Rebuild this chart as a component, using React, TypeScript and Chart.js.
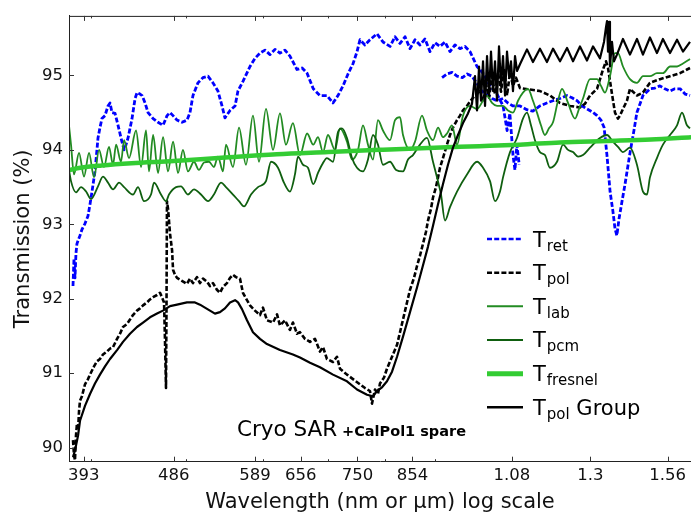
import React, { useEffect, useRef } from "react";
import { Chart, registerables } from "chart.js";

Chart.register(...registerables);

// ---------- axis ticks ----------
const xTickValues = [393, 486, 589, 656, 750, 854, 1080, 1300, 1560];
const xMinorTicks = [400, 500, 600, 700, 800, 900];
const yTickValues = [90, 91, 92, 93, 94, 95];
const X_MIN = 379.6;
const X_MAX = 1648.8;
const Y_MIN = 89.81;
const Y_MAX = 95.8;

// ---------- legend / labels ----------
const legendSubs = ["ret", "pol", "lab", "pcm", "fresnel", "pol"];
const legendTails = ["", "", "", "", "", " Group"];
const xTitle = "Wavelength (nm or \u03bcm) log scale";
const yTitle = "Transmission (%)";
const noteMain = "Cryo SAR";
const noteBold = "+CalPol1 spare";

// ---------- T_ret (visible segment) ----------
const retVisNm = [383.2,384.1,385.0,385.9,386.8,389.6,391.4,394.2,397.0,398.9,400.8,403.6,405.5,406.5,408.4,410.3,413.3,416.2,418.2,420.2,423.2,426.2,429.2,432.3,434.3,436.4,440.5,443.7,445.8,448.9,451.1,454.3,457.5,463.0,468.4,474.0,478.5,481.9,485.3,489.9,495.7,501.6,505.1,508.7,514.7,520.8,527.0,533.3,539.6,544.8,548.6,555.2,561.8,565.7,572.4,582.0,588.9,595.9,603.0,610.2,617.4,624.7,632.1,639.6,650.3,658.2,666.0,675.8,686.6,698.1,708.0,716.4,725.0,733.6,742.4,749.4,754.6,763.5,772.6,785.5,796.7,810.1,819.7,829.4,839.3,849.2,859.3,869.5,879.8,890.3,900.9,911.5,922.3,933.3,944.4,955.6,967.0,978.5,994.8,1009,1026,1043,1058,1068,1075,1083,1088,1093,1099];
const retVisPct = [92.17,92.54,92.28,92.61,92.74,92.85,92.93,93.01,93.11,93.27,93.44,93.71,94.00,94.16,94.30,94.42,94.46,94.59,94.63,94.50,94.49,94.33,94.16,94.00,94.07,94.16,94.42,94.69,94.77,94.75,94.73,94.63,94.50,94.42,94.37,94.33,94.46,94.50,94.46,94.40,94.37,94.40,94.50,94.73,94.90,94.97,94.99,94.90,94.79,94.59,94.43,94.53,94.59,94.79,94.92,95.12,95.23,95.30,95.34,95.28,95.35,95.30,95.34,95.26,95.08,95.10,95.03,94.82,94.73,94.73,94.63,94.73,94.86,95.02,95.16,95.32,95.48,95.41,95.48,95.56,95.45,95.39,95.52,95.43,95.52,95.36,95.48,95.41,95.49,95.32,95.44,95.39,95.45,95.32,95.41,95.36,95.39,95.32,95.12,95.03,94.86,94.75,94.59,94.26,94.49,93.93,93.73,94.07,93.80];

// ---------- T_ret (NIR segment) ----------
const retNirNm = [916,927,938,949,961,972,983,995,1006,1019,1031,1043,1058,1070,1083,1101,1119,1135,1154,1173,1190,1210,1230,1245,1260,1275,1290,1306,1321,1333,1343,1352,1362,1371,1378,1384,1391,1401,1411,1428,1441,1451,1472,1497,1514,1532,1550,1569,1587,1607,1626,1645];
const retNirPct = [94.97,95.02,95.04,94.99,94.97,95.02,94.99,94.89,94.79,94.75,94.69,94.66,94.69,94.63,94.59,94.59,94.54,94.52,94.59,94.63,94.66,94.69,94.73,94.70,94.66,94.59,94.55,94.51,94.46,94.40,94.30,93.93,93.44,93.18,92.94,92.85,93.07,93.31,93.54,93.97,94.26,94.50,94.73,94.82,94.83,94.86,94.82,94.79,94.82,94.82,94.75,94.73];

// ---------- T_pol ----------
const polNm = [383.2,384.1,385.0,385.9,386.8,387.8,388.7,389.6,391.4,394.2,397.0,398.9,402.7,405.6,408.4,411.3,415.2,418.2,421.2,425.2,428.2,431.2,435.3,438.4,441.5,445.7,448.9,452.1,456.4,459.6,462.9,467.3,470.6,472.8,475.1,476.2,477.3,477.9,478.4,479.6,481.9,484.2,485.3,487.6,489.9,495.6,501.5,505.1,508.7,513.5,517.2,520.9,525.8,529.5,533.3,538.3,542.2,546.1,551.2,555.2,559.1,563.1,568.4,572.4,577.9,582.0,588.9,595.9,600.1,605.8,614.5,620.4,624.7,632.1,639.6,644.1,650.3,654.9,662.7,670.6,678.6,686.6,691.5,698.0,708.0,714.7,719.8,731.8,742.2,754.6,763.6,772.6,776.3,781.8,787.3,791.1,798.6,804.3,813.9,823.6,829.4,835.3,843.2,849.2,857.3,863.4,869.5,875.7,881.9,886.1,892.4,896.6,903.0,907.3,911.5,918.0,926.7,933.3,939.9,948.9,955.6,962.4,971.5,978.5,985.5,994.8,1001.9,1009.0,1016.2,1023.4,1030.7,1038.0,1045.4,1052.8,1060.3,1067.8,1075.4,1083.0,1090.7,1101.0,1127.3,1154.2,1181.9,1210.2,1239.1,1268.6,1283.7,1299.0,1320.7,1339.5,1349.0,1355.4,1361.7,1368.2,1377.9,1387.7,1394.2,1404.1,1417.4,1427.5,1451.3,1472.0,1496.5,1532.2,1569.1,1606.5,1633.3,1644.9];
const polPct = [90.10,89.90,89.83,90.16,90.32,90.23,90.49,90.63,90.69,90.85,90.92,90.98,91.09,91.16,91.19,91.25,91.29,91.33,91.35,91.46,91.53,91.62,91.66,91.72,91.78,91.84,91.87,91.91,91.95,91.99,92.02,92.05,92.08,92.02,91.95,91.42,90.80,91.95,93.31,93.21,92.87,92.65,92.39,92.32,92.28,92.24,92.20,92.27,92.21,92.29,92.21,92.27,92.23,92.17,92.21,92.12,92.08,92.16,92.21,92.28,92.32,92.29,92.27,92.08,91.98,91.91,91.84,91.78,91.88,91.71,91.68,91.79,91.64,91.71,91.58,91.68,91.53,91.55,91.46,91.42,91.46,91.29,91.35,91.19,91.15,91.22,91.06,90.98,90.92,90.85,90.80,90.76,90.59,90.78,90.72,90.86,90.94,91.06,91.22,91.38,91.55,91.72,91.95,92.12,92.28,92.44,92.58,92.74,92.90,93.05,93.21,93.36,93.50,93.63,93.76,93.89,94.07,94.20,94.30,94.40,94.46,94.53,94.59,94.65,94.70,94.75,94.81,94.65,94.89,94.70,94.99,94.75,95.04,94.78,95.10,94.73,95.04,94.86,94.97,94.83,94.81,94.79,94.73,94.63,94.59,94.57,94.62,94.73,94.82,95.08,95.19,95.10,94.93,94.75,94.50,94.42,94.46,94.55,94.66,94.82,94.73,94.77,94.90,94.95,94.99,95.03,95.08,95.10];

// ---------- T_lab ----------
const labNm = [379.6,381.4,384.1,388.7,393.3,398.0,402.7,407.5,412.3,417.2,421.2,424.2,429.2,432.3,437.4,444.7,450.0,455.3,458.5,463.0,468.4,474.0,479.6,485.3,491.1,496.8,502.7,509.9,515.9,522.1,528.3,534.5,539.6,546.1,549.9,559.1,567.1,576.5,586.1,594.5,604.4,614.5,624.7,633.6,644.1,654.9,666.0,675.8,683.4,691.5,699.7,711.4,719.8,731.8,740.5,751.1,760.0,769.0,778.1,787.3,796.7,810.1,819.7,829.4,835.3,849.2,859.3,873.6,884.0,896.6,907.3,918.0,926.7,937.7,948.9,962.4,978.5,994.8,1009.0,1018.6,1030.7,1042.9,1057.8,1070.3,1083.0,1095.9,1108.8,1122.0,1135.3,1146.1,1156.9,1167.9,1179.0,1190.3,1204.4,1215.9,1233.3,1253.8,1265.7,1277.6,1299.0,1320.7,1333.1,1345.8,1361.7,1377.9,1387.7,1404.1,1427.5,1451.3,1472.0,1496.5,1521.4,1543.1,1569.1,1595.3,1617.9,1644.9];
const labPct = [94.33,94.07,93.67,93.96,93.64,93.96,93.63,94.00,93.77,94.04,93.80,94.07,93.84,94.13,93.89,94.26,93.77,94.26,93.71,94.20,93.69,94.17,93.71,94.11,93.69,94.00,93.71,93.84,93.73,93.83,93.84,93.77,93.91,93.71,94.07,93.77,94.30,93.80,94.46,93.84,94.55,94.00,94.49,94.07,94.36,93.93,94.22,94.07,94.17,93.97,94.20,94.00,94.29,94.11,93.87,94.00,94.33,94.07,93.87,94.40,94.26,94.13,94.40,94.44,94.20,94.00,94.11,94.46,94.26,94.13,94.30,94.17,94.22,94.33,94.07,94.46,94.59,94.55,94.66,94.73,94.63,94.59,94.59,94.53,94.50,94.66,94.77,94.82,94.66,94.50,94.33,94.20,94.29,94.37,94.66,94.82,94.63,94.42,94.55,94.69,94.95,94.95,94.86,94.77,94.99,95.30,95.30,95.12,94.95,94.90,94.99,94.99,95.03,95.03,95.12,95.12,95.16,95.22];

// ---------- T_pcm ----------
const pcmNm = [379.6,381.4,385.9,390.5,395.2,399.8,406.5,411.3,416.2,421.2,427.2,432.3,441.5,446.8,453.2,460.7,464.0,471.7,477.3,480.7,488.8,494.5,502.7,509.9,518.4,527.1,534.5,543.5,549.9,559.1,567.1,573.8,583.4,593.1,604.4,611.6,621.8,630.6,639.6,647.2,651.8,659.6,667.4,675.8,683.4,689.9,698.0,708.0,716.4,723.2,731.8,740.5,749.3,760.0,769.0,778.1,787.3,796.7,810.1,821.7,835.3,845.2,855.2,869.5,884.0,896.6,905.1,913.7,922.3,933.3,948.9,971.5,994.8,1009.0,1025.8,1038.0,1050.3,1057.8,1075.4,1093.3,1108.8,1119.4,1130.0,1140.7,1154.2,1167.9,1181.9,1201.6,1218.8,1233.3,1247.9,1262.7,1277.6,1299.0,1330.0,1352.2,1371.4,1387.7,1404.1,1427.5,1451.3,1472.0,1486.0,1496.5,1521.4,1543.1,1569.1,1595.3,1614.1,1633.3,1644.9];
const pcmPct = [93.73,93.58,93.43,93.50,93.44,93.34,93.51,93.64,93.56,93.47,93.56,93.50,93.40,93.50,93.31,93.40,93.56,93.40,93.31,93.40,93.50,93.51,93.40,93.47,93.40,93.31,93.40,93.56,93.50,93.40,93.31,93.24,93.40,93.50,93.58,93.84,93.76,93.56,93.44,93.67,93.91,93.80,93.76,93.54,93.69,93.80,93.89,93.84,94.24,94.29,94.16,93.89,93.76,93.71,93.87,94.20,94.07,93.80,93.84,93.73,93.71,93.87,93.93,94.07,94.16,93.84,93.63,93.40,93.05,93.23,93.44,93.67,93.84,93.76,93.58,93.31,93.44,93.63,93.97,94.16,94.42,94.50,94.33,94.13,93.97,93.93,93.76,93.84,94.07,94.00,93.97,93.91,93.93,94.03,94.16,94.20,94.11,94.04,93.97,94.03,93.80,93.44,93.40,93.63,93.89,94.07,94.20,94.33,94.50,94.33,94.29];

// ---------- T_fresnel ----------
const fresNm = [379.6,390,410,440,486,540,620,700,790,900,1000,1100,1210,1350,1500,1649];
const fresPct = [93.73,93.76,93.79,93.82,93.85,93.89,93.94,93.97,94.00,94.03,94.05,94.07,94.10,94.12,94.14,94.17];

// ---------- T_pol Group ----------
const groupNm = [383.2,385.0,387.8,389.6,394.2,398.9,403.6,408.4,413.3,418.2,425.2,431.2,438.4,445.7,452.1,459.6,467.3,473.9,481.9,489.9,501.5,511.1,517.2,523.3,529.5,535.8,542.2,548.6,555.2,561.8,565.8,571.1,577.9,586.1,595.9,605.8,624.7,644.1,654.9,670.6,686.6,708.0,731.8,749.3,767.2,778.1,785.5,794.9,804.3,813.9,823.6,835.3,849.2,863.4,875.7,886.1,896.6,907.3,918.0,928.9,939.9,951.1,962.4,973.8,983.1,990.1,994.8,999.5,1004.3,1009.0,1013.8,1018.6,1023.4,1028.2,1033.1,1038.0,1042.9,1047.8,1052.8,1057.8,1062.8,1067.8,1072.9,1077.9,1083.0,1088.2,1093.3,1101.0,1119.4,1135.3,1154.2,1173.4,1190.3,1210.2,1230.4,1247.9,1268.6,1289.7,1308.2,1330.0,1342.6,1349.0,1352.2,1355.4,1358.6,1361.7,1368.2,1374.6,1384.4,1404.1,1427.5,1451.3,1472.0,1496.5,1521.4,1543.1,1569.1,1595.3,1617.9,1644.9];
const groupPct = [89.87,89.96,90.16,90.36,90.56,90.72,90.86,90.98,91.09,91.19,91.31,91.42,91.53,91.62,91.68,91.75,91.80,91.84,91.90,91.92,91.95,91.95,91.92,91.88,91.84,91.80,91.82,91.87,91.95,91.98,91.95,91.86,91.71,91.55,91.46,91.39,91.31,91.25,91.21,91.14,91.08,90.98,90.89,90.78,90.71,90.69,90.76,90.81,90.89,91.02,91.22,91.49,91.82,92.15,92.45,92.70,92.98,93.27,93.54,93.80,94.03,94.20,94.36,94.49,94.62,94.99,94.53,95.12,94.66,95.19,94.59,95.26,94.73,95.32,94.79,95.19,94.66,95.39,94.86,95.26,94.73,95.32,94.99,95.19,94.79,95.26,95.06,95.15,95.35,95.18,95.36,95.18,95.36,95.19,95.37,95.19,95.39,95.20,95.39,95.23,95.45,95.65,95.73,95.32,95.72,95.12,95.45,95.19,95.28,95.49,95.28,95.49,95.28,95.51,95.30,95.49,95.30,95.48,95.32,95.45];

const pts = (xs: number[], ys: number[]) => {
  const n = Math.min(xs.length, ys.length);
  const out: { x: number; y: number }[] = [];
  for (let i = 0; i < n; i++) out.push({ x: xs[i], y: ys[i] });
  return out;
};

const FONT = "'DejaVu Sans', 'Liberation Sans', sans-serif";

const legendStyles = [
  { color: "#0000ff", dash: [5, 2.2], width: 2.5 },
  { color: "#000000", dash: [5, 2.2], width: 2.5 },
  { color: "#228b22", dash: [], width: 2 },
  { color: "#0f5f0f", dash: [], width: 2 },
  { color: "#33cc33", dash: [], width: 5 },
  { color: "#000000", dash: [], width: 2.5 },
];

const decorPlugin = {
  id: "decor",
  afterDraw(chart: any) {
    const { ctx, chartArea: a, scales } = chart;
    const xs = scales.x;
    const ys = scales.y;
    ctx.save();
    ctx.strokeStyle = "#222";
    ctx.lineWidth = 1;
    ctx.setLineDash([]);
    ctx.beginPath();
    ctx.moveTo(a.left, a.top + 0.5);
    ctx.lineTo(a.right, a.top + 0.5);
    ctx.stroke();
    ctx.strokeStyle = "#333";
    ctx.beginPath();
    const xt = (v: number, len: number) => {
      const px = Math.round(xs.getPixelForValue(v)) + 0.5;
      ctx.moveTo(px, a.bottom);
      ctx.lineTo(px, a.bottom - len);
      ctx.moveTo(px, a.top);
      ctx.lineTo(px, a.top + len);
    };
    xTickValues.forEach((v) => xt(v, 5));
    xMinorTicks.forEach((v) => xt(v, 2.5));
    yTickValues.forEach((v) => {
      const py = Math.round(ys.getPixelForValue(v)) + 0.5;
      ctx.moveTo(a.left, py);
      ctx.lineTo(a.left + 5, py);
    });
    ctx.stroke();

    const lx0 = 487;
    const lx1 = 523;
    const tx = 533;
    const y0 = 239;
    const dy = 33.66;
    legendSubs.forEach((sub, i) => {
      const st = legendStyles[i];
      const ly = y0 + i * dy;
      ctx.strokeStyle = st.color;
      ctx.lineWidth = st.width;
      ctx.setLineDash(st.dash);
      ctx.lineCap = "butt";
      ctx.beginPath();
      ctx.moveTo(lx0, ly);
      ctx.lineTo(lx1, ly);
      ctx.stroke();
      ctx.setLineDash([]);
      ctx.fillStyle = "#000";
      ctx.textBaseline = "alphabetic";
      ctx.textAlign = "left";
      const base = ly + 7.5;
      ctx.font = `21px ${FONT}`;
      ctx.fillText("T", tx, base);
      const wT = ctx.measureText("T").width;
      ctx.font = `15px ${FONT}`;
      ctx.fillText(sub, tx + wT + 1, base + 4);
      const wS = ctx.measureText(sub).width;
      if (legendTails[i]) {
        ctx.font = `21px ${FONT}`;
        ctx.fillText(legendTails[i], tx + wT + 1 + wS, base);
      }
    });

    ctx.fillStyle = "#000";
    ctx.textBaseline = "alphabetic";
    ctx.textAlign = "left";
    ctx.font = `21.5px ${FONT}`;
    ctx.fillText(noteMain, 237, 436);
    ctx.font = `bold 14.5px ${FONT}`;
    ctx.fillText(noteBold, 342, 436);
    ctx.restore();
  },
};

const fmtX = (v: number) => (v >= 1000 ? String(+(v / 1000).toFixed(2)) : String(v));

export default function App() {
  const ref = useRef<HTMLCanvasElement | null>(null);
  useEffect(() => {
    if (!ref.current) return;
    Chart.defaults.font.family = FONT;
    const line = (label: string, xs: number[], ys: number[], color: string, width: number, dash: number[], order: number, smooth: boolean) => ({
      label,
      data: pts(xs, ys),
      borderColor: color,
      backgroundColor: color,
      borderWidth: width,
      borderDash: dash,
      pointRadius: 0,
      fill: false,
      tension: 0,
      cubicInterpolationMode: smooth ? ("monotone" as const) : ("default" as const),
      borderJoinStyle: "round" as const,
      order,
    });
    const chart = new Chart(ref.current, {
      type: "line",
      data: {
        datasets: [
          line("T_ret", retVisNm, retVisPct, "#0000ff", 2.8, [5, 2.2], 6, false),
          line("T_ret NIR", retNirNm, retNirPct, "#0000ff", 2.8, [5, 2.2], 6, false),
          line("T_pol", polNm, polPct, "#000000", 2.6, [5, 2.2], 5, false),
          line("T_lab", labNm, labPct, "#228b22", 1.8, [], 4, true),
          line("T_pcm", pcmNm, pcmPct, "#0f5f0f", 1.8, [], 3, true),
          line("T_fresnel", fresNm, fresPct, "#33cc33", 4.5, [], 2, true),
          line("T_pol Group", groupNm, groupPct, "#000000", 2.2, [], 1, false),
        ],
      },
      options: {
        responsive: false,
        animation: false,
        devicePixelRatio: 1,
        layout: { padding: { top: 9, left: 0, right: 0, bottom: 0 } },
        plugins: { legend: { display: false }, tooltip: { enabled: false } },
        scales: {
          x: {
            type: "logarithmic",
            position: "bottom",
            min: X_MIN,
            max: X_MAX,
            afterBuildTicks: (s: any) => {
              s.ticks = xTickValues.map((v) => ({ value: v }));
            },
            afterFit: (s: any) => {
              s.height = 56.3;
            },
            grid: { display: false, drawTicks: false },
            border: { display: true, color: "#222", width: 1, z: 1 },
            ticks: {
              autoSkip: false,
              maxRotation: 0,
              minRotation: 0,
              padding: 4.4,
              color: "#111",
              font: { size: 16.5 },
              callback: (v: any) => fmtX(Number(v)),
            },
            title: {
              display: true,
              text: xTitle,
              color: "#111",
              font: { size: 21 },
              padding: { top: 0, bottom: 2.7 },
            },
          },
          y: {
            type: "linear",
            position: "left",
            min: Y_MIN,
            max: Y_MAX,
            afterBuildTicks: (s: any) => {
              s.ticks = yTickValues.map((v) => ({ value: v }));
            },
            afterFit: (s: any) => {
              s.width = 69;
            },
            grid: { display: false, drawTicks: false },
            border: { display: true, color: "#222", width: 1, z: 1 },
            ticks: {
              padding: 6,
              color: "#111",
              font: { size: 16.5 },
              callback: (v: any) => String(v),
            },
            title: {
              display: true,
              text: yTitle,
              color: "#111",
              font: { size: 21 },
              padding: { top: 11.1, bottom: 0 },
            },
          },
        },
      },
      plugins: [decorPlugin],
    } as any);
    return () => chart.destroy();
  }, []);
  return (
    <div style={{ position: "fixed", left: 0, top: 0, width: 691, height: 518, background: "#fff" }}>
      <canvas ref={ref} width={691} height={518} style={{ display: "block" }} />
    </div>
  );
}
